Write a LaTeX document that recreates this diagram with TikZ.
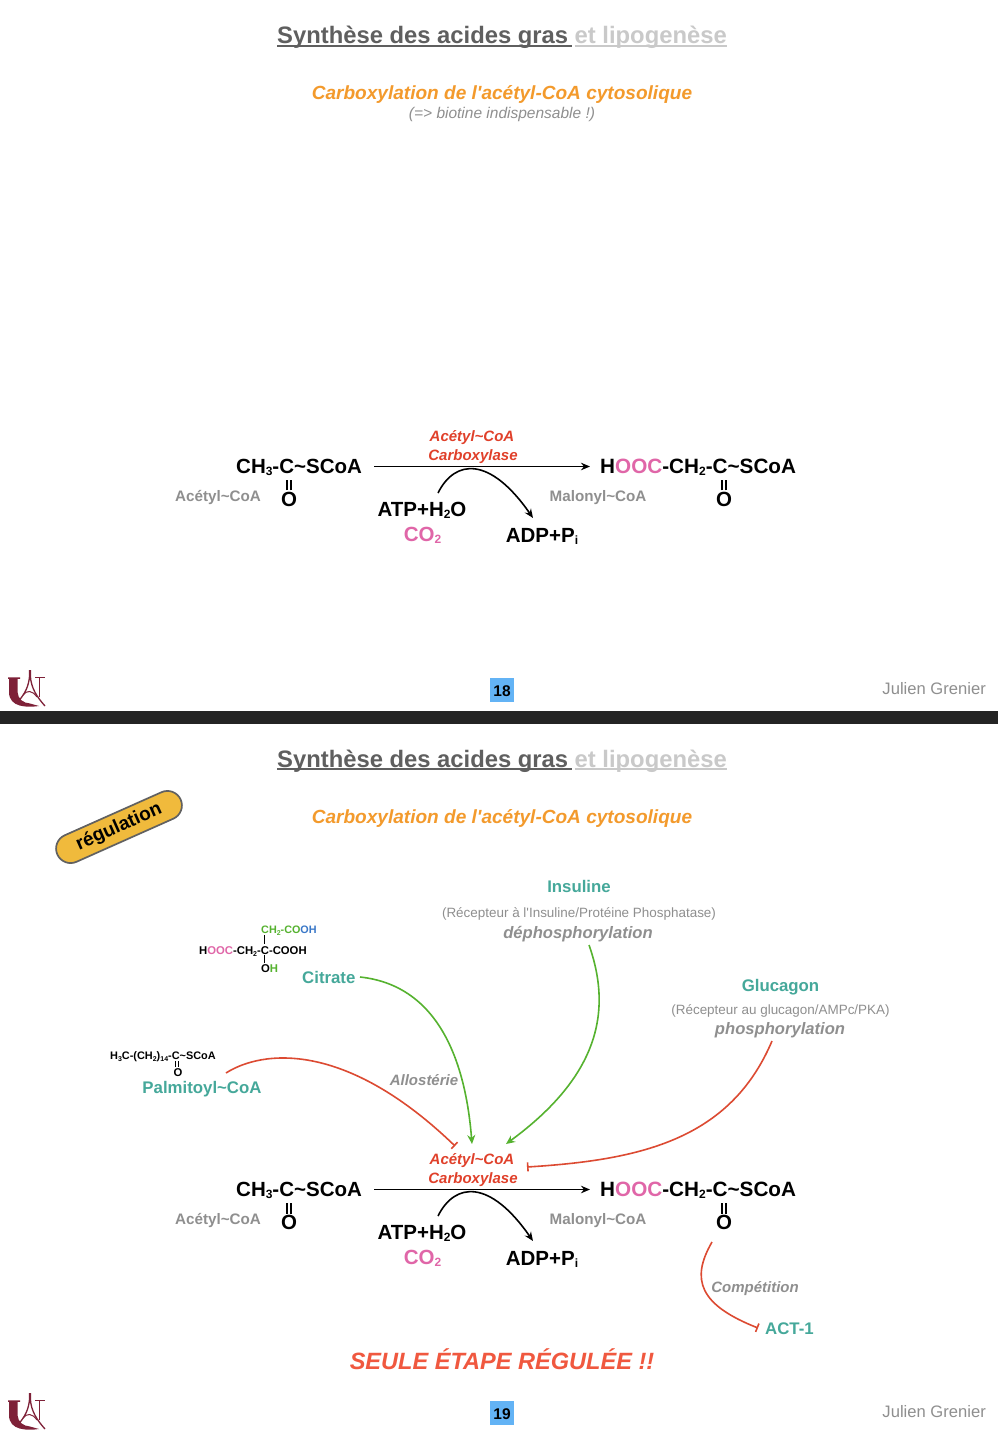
\documentclass[tikz,border=0pt]{standalone}
\usepackage{fontspec}
\setmainfont{Liberation Sans}
\usetikzlibrary{arrows.meta,shapes.misc}
\definecolor{tgrey}{HTML}{5F5F5F}
\definecolor{lgrey}{HTML}{C9C9C9}
\definecolor{mgrey}{HTML}{8F8F8F}
\definecolor{orng}{HTML}{F39A2C}
\definecolor{pnk}{HTML}{E066A8}
\definecolor{teal2}{HTML}{45A89A}
\definecolor{redt}{HTML}{E0402A}
\definecolor{redl}{HTML}{DC4A32}
\definecolor{reds}{HTML}{F0583F}
\definecolor{grn}{HTML}{55B22F}
\definecolor{blu}{HTML}{3A78C8}
\definecolor{maroon2}{HTML}{7E2138}
\definecolor{pillc}{HTML}{F0BA3C}
\definecolor{pageb}{HTML}{63B3F5}
\newcommand{\fsz}[1]{\fontsize{#1}{#1}\selectfont}
\newcommand{\tld}{\textasciitilde}
\newcommand{\sbt}[2][12]{\raisebox{-2.5pt}{\fsz{#1}#2}}
\tikzset{
  txtc/.style={inner sep=0pt,anchor=base},
  txtw/.style={inner sep=0pt,anchor=base west},
  chemw/.style={txtw,font=\fsz{20.5}\bfseries},
  chemc/.style={txtc,font=\fsz{20.5}\bfseries},
  smallchem/.style={txtw,font=\fsz{11.3}\bfseries},
  molname/.style={txtw,font=\fsz{15.2}\bfseries,text=mgrey},
  enzlabel/.style={txtc,font=\fsz{15}\bfseries\itshape,text=redt},
  reglabel/.style={txtc,font=\fsz{16.8}\bfseries,text=teal2},
  notelabel/.style={txtc,font=\fsz{13.45}\color{mgrey}},
  actlabel/.style={txtc,font=\fsz{16.6}\bfseries\itshape,text=mgrey},
  mechlabel/.style={txtc,font=\fsz{15}\bfseries\itshape,text=mgrey},
  bondline/.style={line width=1.7pt,black},
  sbondline/.style={line width=1.1pt,black},
  mainarrow/.style={line width=1.6pt,black,-{Stealth[length=9pt,width=7.5pt]}},
  posarrow/.style={line width=1.6pt,grn,-{Stealth[length=9pt,width=8pt]}},
  negarrow/.style={line width=1.6pt,redl,-{Bar[width=9pt,length=1.4pt]}},
  titleline/.style={line width=1.5pt},
}
\newcommand{\slide}[3]{%
\begin{scope}[yshift=#2]
  \node[txtw,font=\fsz{23.8}\bfseries,text=tgrey] (#1titlea) at (277,44) {Synthèse des acides gras};
  \node[txtw,font=\fsz{23.8}\bfseries,text=lgrey] (#1titleb) at (574.5,44) {et lipogenèse};
  \draw[titleline,tgrey] ([yshift=-2.2pt]#1titlea.base west) -- ([xshift=4pt,yshift=-2.2pt]#1titlea.base east);
  \draw[titleline,lgrey] ([yshift=-2.2pt]#1titleb.base west) -- ([yshift=-2.2pt]#1titleb.base east);
  \node[txtc,font=\fsz{19.05}\bfseries\itshape,text=orng] (#1sub) at (502,100) {Carboxylation de l\textquotesingle acétyl-CoA cytosolique};
  \node[chemw] (#1acetyl) at (236,473) {CH\sbt{3}-C\tld SCoA};
  \node[chemc] (#1oa) at (289,506) {O};
  \draw[bondline] ([xshift=-1.8pt,yshift=1pt]#1oa.north) -- ++(0,-10.5);
  \draw[bondline] ([xshift=1.8pt,yshift=1pt]#1oa.north) -- ++(0,-10.5);
  \node[molname] (#1nacetyl) at (175,501) {Acétyl\tld CoA};
  \node[chemw,font=\fsz{20.7}\bfseries] (#1malonyl) at (600,473) {H\textcolor{pnk}{OOC}-CH\sbt{2}-C\tld SCoA};
  \node[chemc] (#1ob) at (724,506) {O};
  \draw[bondline] ([xshift=-1.8pt,yshift=1pt]#1ob.north) -- ++(0,-10.5);
  \draw[bondline] ([xshift=1.8pt,yshift=1pt]#1ob.north) -- ++(0,-10.5);
  \node[molname] (#1nmalonyl) at (549.5,501) {Malonyl\tld CoA};
  \node[enzlabel] (#1enza) at (472,441) {Acétyl\tld CoA};
  \node[enzlabel] (#1enzb) at (473,460) {Carboxylase};
  \node[chemc] (#1atp) at (422,516) {ATP+H\sbt{2}O};
  \node[chemc,text=pnk] (#1co) at (422.5,541) {CO\sbt{2}};
  \node[chemc] (#1adp) at (542,542) {ADP+P\sbt{i}};
  \coordinate (#1from) at (374,466.5);
  \coordinate (#1to) at (590,466.5);
  \coordinate (#1atpout) at (438,493);
  \coordinate (#1adpin) at (533,518);
  \draw[mainarrow] (#1from) -- (#1to);
  \draw[mainarrow] (#1atpout) .. controls (455,459) and (490,456) .. (#1adpin);
  \node[fill=pageb,minimum width=24pt,minimum height=24pt,inner sep=0pt] (#1page) at (502,690) {};
  \node[txtc,font=\fsz{15.5}\bfseries] (#1pagen) at (502,696.5) {#3};
  \node[inner sep=0pt,anchor=base east,font=\fsz{16.6},text=mgrey] (#1author) at (986,694) {Julien Grenier};
  \fill[maroon2] (8,677.3) -- (20,677.3) -- (20,678.8) -- (17.5,678.8) -- (17.5,692) .. controls (18,699) and (23,703) .. (30,703.5) -- (39,706) .. controls (28,707.5) and (9,708) .. (9,692) -- (9,678.8) -- (8,678.8) -- cycle;
  \draw[maroon2,line width=1.3pt] (29.6,670) -- (29.6,676) .. controls (28.5,687) and (25,693) .. (19.5,700);
  \draw[maroon2,line width=1.3pt] (30.4,670) -- (30.4,676) .. controls (31,688) and (37,697) .. (45,706);
  \draw[maroon2,line width=1pt] (23,695) .. controls (27,690) and (32,690) .. (37,697);
  \draw[maroon2,line width=.7pt] (35,677.5) -- (45,677.5);
  \draw[maroon2,line width=1pt] (39.5,677.5) -- (39.5,697);
\end{scope}}
\begin{document}
\begin{tikzpicture}[x=1pt,y=-1pt]
\useasboundingbox (0,0) rectangle (998,1434);
\fill[white] (0,0) rectangle (998,1434);
\slide{a}{0pt}{18}
\node[txtc,font=\fsz{15.5}\itshape,text=mgrey] (asub2) at (502,119) {(=> biotine indispensable !)};
\fill[black!86] (0,711) rectangle (998,724);
\slide{b}{-723pt}{19}
% regulation pill
\node[rounded rectangle,draw=black!62,fill=pillc,line width=1.7pt,rotate=24,minimum width=135pt,minimum height=29pt,inner sep=0pt,font=\fsz{19}\bfseries] (pill) at (119,827) {régulation};
% citrate
\node[smallchem,font=\fsz{10.8}\bfseries] (cit1) at (261,933) {\textcolor{grn}{CH\sbt[7]{2}-CO}\textcolor{blu}{OH}};
\node[smallchem] (cit2) at (199,954) {H\textcolor{pnk}{OOC}-CH\sbt[7]{2}-C-COOH};
\node[smallchem] (cit3) at (261,972) {O\textcolor{grn}{H}};
\draw[sbondline] (264.5,935) -- (264.5,944);
\draw[sbondline] (264.5,955) -- (264.5,963);
\node[reglabel,anchor=base west] (citrate) at (302,983) {Citrate};
% palmitoyl
\node[smallchem,font=\fsz{10.9}\bfseries] (pal) at (110,1059) {H\sbt[7]{3}C-(CH\sbt[7]{2})\sbt[7]{14}-C\tld SCoA};
\node[smallchem] (palo) at (173.5,1076) {O};
\draw[sbondline] (175.8,1061) -- (175.8,1067);
\draw[sbondline] (178.4,1061) -- (178.4,1067);
\node[reglabel] (palm) at (202,1093) {Palmitoyl\tld CoA};
% insulin
\node[reglabel] (ins) at (579,892) {Insuline};
\node[notelabel] (insn) at (579,917) {(Récepteur à l\textquotesingle Insuline/Protéine Phosphatase)};
\node[actlabel] (insm) at (578,938) {déphosphorylation};
% glucagon
\node[reglabel] (glu) at (780.5,991) {Glucagon};
\node[notelabel] (glun) at (780.5,1014) {(Récepteur au glucagon/AMPc/PKA)};
\node[actlabel] (glum) at (780,1034) {phosphorylation};
% labels
\node[mechlabel] (allo) at (424,1085) {Allostérie};
\node[mechlabel] (comp) at (755,1292) {Compétition};
\node[reglabel,anchor=base west] (actone) at (765,1334) {ACT-1};
\node[txtc,font=\fsz{23.55}\bfseries\itshape,text=reds] (seule) at (502,1369) {SEULE ÉTAPE RÉGULÉE !!};
% connector ends
\coordinate (citout) at (360,977);
\coordinate (palout) at (226,1073);
\coordinate (insout) at (589,945);
\coordinate (gluout) at (772,1041);
\coordinate (compout) at (712,1242);
\coordinate (enzp) at (455,1146);
\coordinate (enzc) at (472,1144);
\coordinate (enzi) at (506,1144);
\coordinate (enzg) at (527,1167);
\coordinate (actin) at (758,1328);
\draw[posarrow] (citout) .. controls (435,985) and (465,1055) .. (enzc);
\draw[posarrow] (insout) .. controls (612,1010) and (600,1075) .. (enzi);
\draw[negarrow] (palout) .. controls (262,1050) and (345,1040) .. (enzp);
\draw[negarrow] (gluout) .. controls (730,1140) and (640,1160) .. (enzg);
\draw[negarrow] (compout) .. controls (690,1280) and (700,1305) .. (actin);
\end{tikzpicture}
\end{document}
